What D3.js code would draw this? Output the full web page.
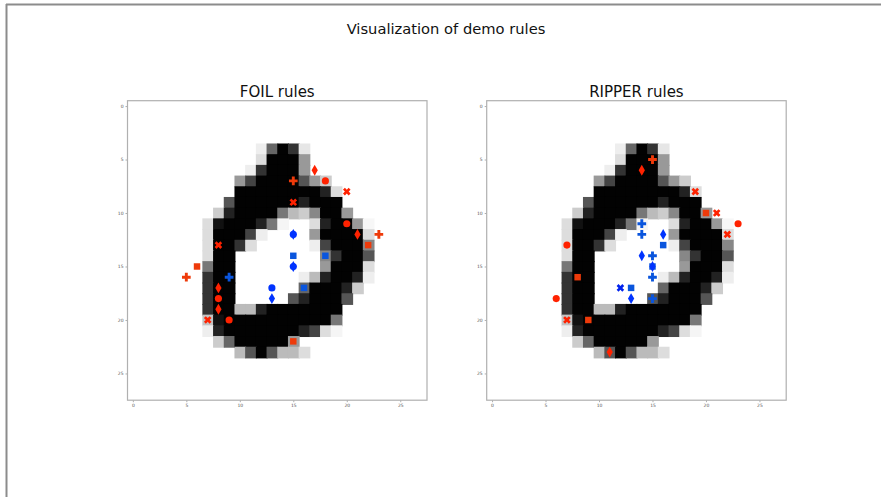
<!DOCTYPE html>
<html><head><meta charset="utf-8">
<script src="https://cdn.jsdelivr.net/npm/d3@7"></script>
<style>html,body{margin:0;padding:0;background:#fff;}svg{display:block;}</style>
</head><body>
<script>
// ---- data ----
const figTitle = "Visualization of demo rules";
const panelTitles = ["FOIL rules", "RIPPER rules"];
const ticks = [0, 5, 10, 15, 20, 25];
const gridSize = 28;
// image rows: [row, startCol, ink values 0..255 (255 = black)]
const imageRows = [
  [4, 12, [17, 153, 253, 204, 25]],
  [5, 12, [34, 253, 253, 253, 102]],
  [6, 11, [17, 204, 253, 253, 253, 102]],
  [7, 10, [102, 187, 253, 253, 253, 253, 170, 102, 51]],
  [8, 10, [253, 253, 253, 253, 253, 253, 253, 253, 221, 34]],
  [9, 9, [170, 253, 253, 253, 253, 253, 253, 221, 253, 253, 253]],
  [10, 8, [51, 221, 253, 253, 253, 253, 136, 68, 51, 119, 253, 253, 102]],
  [11, 7, [34, 238, 253, 253, 253, 221, 136, 10, 0, 0, 34, 221, 253, 253, 102, 8]],
  [12, 7, [34, 253, 253, 253, 187, 17, 0, 0, 0, 0, 102, 253, 253, 253, 253, 34]],
  [13, 7, [34, 253, 253, 204, 34, 0, 0, 0, 0, 0, 17, 187, 253, 253, 253, 120]],
  [14, 7, [34, 253, 253, 0, 0, 0, 0, 0, 0, 0, 0, 120, 204, 253, 253, 170]],
  [15, 7, [136, 253, 253, 0, 0, 0, 0, 0, 0, 0, 0, 102, 253, 253, 253, 34]],
  [16, 7, [204, 253, 253, 0, 0, 0, 0, 0, 0, 17, 68, 221, 253, 253, 221, 17]],
  [17, 7, [204, 253, 253, 0, 0, 0, 0, 0, 0, 153, 253, 253, 253, 221, 51]],
  [18, 7, [204, 253, 253, 0, 0, 0, 0, 0, 170, 221, 253, 253, 253, 170]],
  [19, 7, [204, 253, 253, 68, 68, 221, 253, 253, 253, 253, 253, 253, 253]],
  [20, 7, [60, 238, 253, 253, 253, 253, 253, 253, 253, 253, 253, 253, 136]],
  [21, 7, [17, 221, 253, 253, 253, 253, 253, 253, 253, 221, 187, 34, 10]],
  [22, 8, [51, 153, 253, 253, 253, 253, 253, 102]],
  [23, 10, [68, 170, 253, 170, 68, 68, 34]]
];
// markers: [shape, col, row]
const foilRed = [
  ["d", 17, 6], ["P", 15, 7], ["o", 18, 7], ["X", 20, 8], ["X", 15, 9],
  ["o", 20, 11], ["d", 21, 12], ["P", 23, 12], ["s", 22, 13], ["X", 8, 13],
  ["s", 6, 15], ["P", 5, 16], ["d", 8, 17], ["o", 8, 18], ["d", 8, 19],
  ["X", 7, 20], ["o", 9, 20], ["s", 15, 22]
];
const foilBlue = [
  ["o", 15, 12], ["d", 15, 12], ["s", 15, 14], ["s", 18, 14], ["o", 15, 15], ["d", 15, 15],
  ["P", 9, 16], ["s", 16, 17], ["o", 13, 17], ["d", 13, 18]
];
const ripperRed = [
  ["P", 15, 5], ["d", 14, 6], ["X", 19, 8], ["s", 20, 10], ["X", 21, 10],
  ["o", 23, 11], ["X", 22, 12], ["o", 7, 13], ["s", 8, 16], ["o", 6, 18],
  ["X", 7, 20], ["s", 9, 20], ["d", 11, 23]
];
const ripperBlue = [
  ["P", 14, 11], ["P", 14, 12], ["d", 16, 12], ["s", 16, 13], ["d", 14, 14],
  ["P", 15, 14], ["s", 15, 15], ["d", 15, 15], ["P", 15, 16], ["X", 12, 17],
  ["s", 13, 17], ["d", 13, 18], ["P", 15, 18]
];
const redColors = {o: "#ff2200", d: "#ff2200", X: "#ff2200", P: "#ee3a0a", s: "#ee3a0a"};
const blueColors = {o: "#0033ff", d: "#0033ff", X: "#0022ee", P: "#0a55dd", s: "#0a55dd"};

// ---- layout ----
const W = 881, H = 497;
const svg = d3.select("body").append("svg").attr("width", W).attr("height", H);
svg.append("rect").attr("width", W).attr("height", H).attr("fill", "#fff");
// outer frame (top + left edges)
svg.append("line").attr("x1", 6).attr("x2", W).attr("y1", 4.5).attr("y2", 4.5)
  .attr("stroke", "#8c8c8c").attr("stroke-width", 2);
svg.append("line").attr("x1", 6.5).attr("x2", 6.5).attr("y1", 4).attr("y2", H)
  .attr("stroke", "#8c8c8c").attr("stroke-width", 2);

svg.append("text").attr("x", 446).attr("y", 34).attr("text-anchor", "middle")
  .attr("font-family", "DejaVu Sans").attr("font-size", 14.7).attr("fill", "#111")
  .text(figTitle);

const gray = d3.scaleLinear().domain([0, 255]).range(["#ffffff", "#000000"]);
const sizePx = 299.5;
const panels = [
  {left: 127.5, top: 100.7, title: panelTitles[0], red: foilRed, blue: foilBlue},
  {left: 486.7, top: 100.7, title: panelTitles[1], red: ripperRed, blue: ripperBlue}
];

const area = {o: 40, s: 42, d: 34, P: 42, X: 36};
function markerPath(shape) {
  const a = area[shape];
  if (shape === "o") return d3.symbol(d3.symbolCircle, a)();
  if (shape === "s") return d3.symbol(d3.symbolSquare, a)();
  if (shape === "d") return d3.symbol(d3.symbolDiamond, a)();
  return d3.symbol(d3.symbolCross, a)();
}

panels.forEach(p => {
  const x = d3.scaleLinear().domain([-0.5, gridSize - 0.5]).range([p.left, p.left + sizePx]);
  const y = d3.scaleLinear().domain([-0.5, gridSize - 0.5]).range([p.top, p.top + sizePx]);
  const g = svg.append("g");
  const cell = x(1) - x(0);
  const pixels = [];
  imageRows.forEach(([r, c0, vals]) => vals.forEach((v, i) => { if (v > 0) pixels.push({r, c: c0 + i, v}); }));
  g.selectAll("rect.px").data(pixels).enter().append("rect").attr("class", "px")
    .attr("x", d => x(d.c - 0.5)).attr("y", d => y(d.r - 0.5))
    .attr("width", cell + 1).attr("height", cell + 1)
    .attr("fill", d => gray(d.v));

  const xAxis = d3.axisBottom(x).tickValues(ticks).tickSize(2).tickPadding(2);
  const yAxis = d3.axisLeft(y).tickValues(ticks).tickSize(2).tickPadding(2);
  const gx = g.append("g").attr("transform", `translate(0,${p.top + sizePx})`).call(xAxis);
  const gy = g.append("g").attr("transform", `translate(${p.left},0)`).call(yAxis);
  [gx, gy].forEach(a => {
    a.select(".domain").remove();
    a.selectAll("line").attr("stroke", "#777").attr("stroke-width", 0.6);
    a.selectAll("text").attr("font-family", "DejaVu Sans").attr("font-size", 4.5).attr("fill", "#555");
  });
  g.append("rect").attr("x", p.left).attr("y", p.top).attr("width", sizePx).attr("height", sizePx)
    .attr("fill", "none").attr("stroke", "#b0b0b0").attr("stroke-width", 1.2);

  const marks = p.red.map(m => ({m, col: redColors[m[0]]})).concat(p.blue.map(m => ({m, col: blueColors[m[0]]})));
  g.selectAll("path.mk").data(marks).enter().append("path").attr("class", "mk")
    .attr("d", d => markerPath(d.m[0]))
    .attr("transform", d => `translate(${x(d.m[1])},${y(d.m[2])})` + (d.m[0] === "X" ? " rotate(45)" : ""))
    .attr("fill", d => d.col);

  svg.append("text").attr("x", p.left + sizePx / 2).attr("y", p.top - 4).attr("text-anchor", "middle")
    .attr("font-family", "DejaVu Sans").attr("font-size", 15).attr("fill", "#111").text(p.title);
});
</script>
</body></html>
